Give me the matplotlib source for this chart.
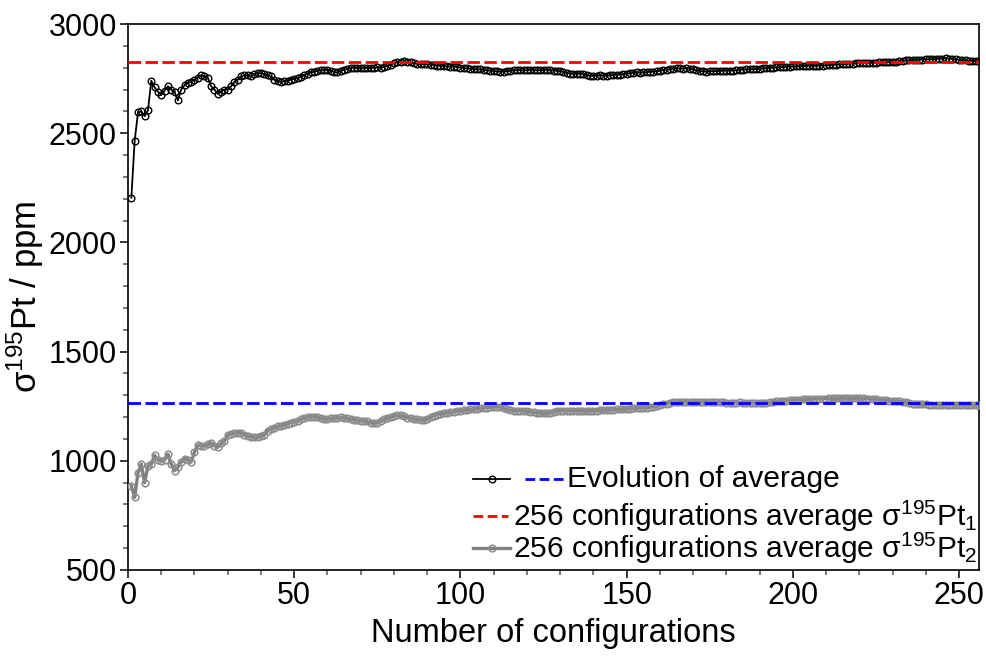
import numpy as np
import matplotlib
matplotlib.use("Agg")
import matplotlib.pyplot as plt
from matplotlib.lines import Line2D
from matplotlib.ticker import MultipleLocator

plt.rcParams['font.family'] = ['Liberation Sans', 'DejaVu Sans']
plt.rcParams['mathtext.fontset'] = 'custom'
plt.rcParams['mathtext.rm'] = 'Liberation Sans'
plt.rcParams['mathtext.default'] = 'regular'

# ---- data ----
configs = np.arange(1, 257)

pt1_running = [
    2205, 2465, 2595, 2600, 2578, 2605, 2740, 2710, 2690, 2675,
    2695, 2715, 2700, 2690, 2650, 2700, 2720, 2730, 2735, 2745,
    2755, 2765, 2760, 2755, 2715, 2700, 2680, 2690, 2700, 2700,
    2715, 2735, 2745, 2760, 2765, 2765, 2760, 2770, 2775, 2775,
    2770, 2765, 2760, 2745, 2738, 2735, 2738, 2740, 2745, 2750,
    2752, 2758, 2765, 2772, 2778, 2782, 2786, 2788, 2789, 2790,
    2785, 2780, 2778, 2785, 2790, 2795, 2798, 2800, 2798, 2797,
    2798, 2800, 2798, 2800, 2802, 2800, 2803, 2808, 2814, 2820,
    2825, 2828, 2830, 2828, 2824, 2820, 2818, 2816, 2815, 2816,
    2814, 2812, 2810, 2808, 2808, 2806, 2805, 2805, 2803, 2800,
    2798, 2797, 2795, 2794, 2793, 2792, 2790, 2788, 2786, 2785,
    2783, 2782, 2782, 2784, 2786, 2788, 2789, 2789, 2788, 2789,
    2790, 2789, 2788, 2789, 2790, 2790, 2788, 2787, 2786, 2784,
    2780, 2776, 2773, 2771, 2772, 2773, 2770, 2766, 2763, 2762,
    2763, 2765, 2764, 2763, 2765, 2767, 2768, 2768, 2770, 2772,
    2775, 2777, 2778, 2777, 2778, 2780, 2781, 2782, 2784, 2786,
    2789, 2791, 2793, 2795, 2797, 2797, 2796, 2797, 2796, 2792,
    2788, 2785, 2783, 2782, 2783, 2784, 2784, 2785, 2786, 2787,
    2786, 2787, 2788, 2790, 2791, 2792, 2793, 2793, 2794, 2796,
    2797, 2798, 2799, 2800, 2801, 2802, 2803, 2804, 2805, 2806,
    2806, 2807, 2807, 2808, 2808, 2808, 2809, 2809, 2810, 2811,
    2812, 2813, 2814, 2815, 2816, 2817, 2818, 2819, 2820, 2820,
    2821, 2821, 2822, 2822, 2823, 2824, 2824, 2825, 2826, 2827,
    2828, 2829, 2831, 2833, 2834, 2835, 2836, 2837, 2837, 2838,
    2839, 2840, 2840, 2841, 2842, 2843, 2842, 2840, 2838, 2836,
    2834, 2833, 2832, 2831, 2830, 2829,
]

pt2_running = [
    885, 832, 945, 985, 900, 975, 985, 1025, 1003, 1000,
    1005, 1030, 985, 955, 970, 995, 1010, 1005, 995, 1040,
    1072, 1070, 1067, 1075, 1082, 1070, 1062, 1080, 1090, 1118,
    1125, 1127, 1128, 1128, 1120, 1113, 1110, 1108, 1107, 1112,
    1118, 1138, 1145, 1152, 1158, 1160, 1165, 1170, 1175, 1179,
    1182, 1190, 1197, 1200, 1202, 1200, 1199, 1195, 1192, 1190,
    1194, 1195, 1198, 1199, 1197, 1194, 1190, 1188, 1186, 1183,
    1182, 1180, 1175, 1171, 1175, 1182, 1190, 1196, 1200, 1205,
    1209, 1208, 1203, 1198, 1195, 1192, 1190, 1187, 1186, 1192,
    1200, 1207, 1212, 1216, 1218, 1220, 1222, 1225, 1228, 1230,
    1232, 1233, 1235, 1236, 1238, 1240, 1242, 1244, 1246, 1247,
    1248, 1246, 1240, 1235, 1231, 1229, 1229, 1230, 1228, 1226,
    1224, 1222, 1220, 1219, 1218, 1217, 1220, 1224, 1227, 1229,
    1230, 1229, 1228, 1229, 1230, 1229, 1228, 1228, 1229, 1229,
    1230, 1231, 1232, 1232, 1233, 1234, 1235, 1235, 1236, 1237,
    1238, 1240, 1241, 1242, 1243, 1244, 1246, 1248, 1251, 1254,
    1258, 1262, 1266, 1269, 1270, 1271, 1270, 1270, 1271, 1270,
    1270, 1269, 1270, 1271, 1270, 1269, 1268, 1267, 1267, 1266,
    1266, 1265, 1266, 1267, 1266, 1265, 1265, 1266, 1265, 1265,
    1266, 1266, 1268, 1270, 1272, 1273, 1275, 1276, 1277, 1278,
    1279, 1280, 1281, 1281, 1282, 1283, 1284, 1284, 1285, 1285,
    1286, 1286, 1286, 1286, 1287, 1287, 1286, 1286, 1286, 1286,
    1286, 1285, 1284, 1283, 1281, 1280, 1279, 1277, 1275, 1274,
    1273, 1272, 1270, 1268, 1265, 1262, 1260, 1259, 1258, 1258,
    1257, 1257, 1257, 1256, 1256, 1256, 1256, 1257, 1257, 1256,
    1256, 1256, 1255, 1256, 1256, 1256,
]

pt1_average = 2828
pt2_average = 1263

xlim = (0, 256)
ylim = (500, 3000)

fig = plt.figure(figsize=(9.87, 6.56), dpi=100)
ax = fig.add_axes([0.1297, 0.1311, 0.8622, 0.8323])

ax.plot(configs, pt1_running, color='black', lw=1.3, marker='o', ms=4.8,
        mfc='none', mec='black', mew=1.0, zorder=3)
ax.plot(configs, pt2_running, color='#808080', lw=2.4, marker='o', ms=4.8,
        mfc='none', mec='#8c8c8c', mew=1.1, zorder=3)
ax.axhline(pt1_average, color='#ff0000', lw=2, dashes=(4.5, 1.6), zorder=4)
ax.axhline(pt2_average, color='#0000ff', lw=2, dashes=(4.5, 1.6), zorder=4)

ax.set_xlim(*xlim)
ax.set_ylim(*ylim)
ax.xaxis.set_major_locator(MultipleLocator(50))
ax.xaxis.set_minor_locator(MultipleLocator(10))
ax.yaxis.set_major_locator(MultipleLocator(500))
ax.yaxis.set_minor_locator(MultipleLocator(100))
ax.tick_params(which='both', direction='out', top=False, right=False,
               labelsize=22, width=1.1)
ax.tick_params(which='major', length=6, pad=2)
ax.tick_params(which='minor', length=3.5, color='#555555')
for s in ax.spines.values():
    s.set_linewidth(1.2)

ax.set_xlabel('Number of configurations', fontsize=23.5, labelpad=5)
ax.set_ylabel('σ$^{195}$Pt / ppm', fontsize=25, labelpad=2)

# ---- hand-made legend (first row carries two keys) ----
tr = ax.transAxes
rows = [0.1665, 0.0989, 0.0403]
ax.add_line(Line2D([0.4054, 0.4489], [rows[0]] * 2, transform=tr, color='black', lw=1.3))
ax.add_line(Line2D([0.4272], [rows[0]], transform=tr, marker='o', ms=4.8,
                   mfc='none', mec='black', mew=1.0))
ax.add_line(Line2D([0.4665, 0.5135], [rows[0]] * 2, transform=tr, color='#0000ff',
                   lw=2, dashes=(3.5, 1.6)))
ax.add_line(Line2D([0.4054, 0.4465], [rows[1]] * 2, transform=tr, color='#ff0000',
                   lw=2, dashes=(3.5, 1.6)))
ax.add_line(Line2D([0.4054, 0.4489], [rows[2]] * 2, transform=tr, color='#808080', lw=2.4))
ax.add_line(Line2D([0.4272], [rows[2]], transform=tr, marker='o', ms=4.8,
                   mfc='none', mec='#8c8c8c', mew=1.1))
ax.text(0.5159, rows[0], 'Evolution of average', transform=tr, fontsize=21.5,
        va='center')
ax.text(0.4524, rows[1], '256 configurations average σ$^{195}$Pt$_1$', transform=tr,
        fontsize=21.5, va='center')
ax.text(0.4524, rows[2], '256 configurations average σ$^{195}$Pt$_2$', transform=tr,
        fontsize=21.5, va='center')

fig.savefig('out.png', dpi=100)
